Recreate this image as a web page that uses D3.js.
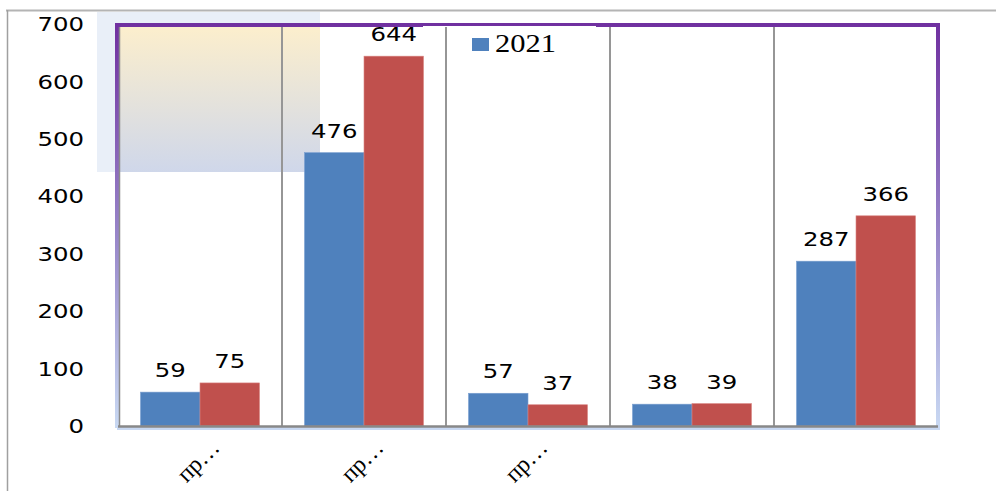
<!DOCTYPE html>
<html>
<head>
<meta charset="utf-8">
<script src="https://cdn.jsdelivr.net/npm/d3@7"></script>
<style>
  body { margin: 0; background: #fff; }
  svg { display: block; }
  .serif { font-family: "Liberation Serif", "Times New Roman", Times, serif; }
  .sans { font-family: "DejaVu Sans", Verdana, sans-serif; }
</style>
</head>
<body>
<svg class="chart" width="996" height="491"></svg>
<script>
// data
var categories = ["пр…", "пр…", "пр…", "", ""];
var series2021 = [59, 476, 57, 38, 287];
var series2022 = [75, 644, 37, 39, 366];
var yTicks = [0, 100, 200, 300, 400, 500, 600, 700];
var legendLabel = "2021";

var colors = ["#4f81bd", "#c0504d"];
// plot edges ("top" would clash with window.top)
var pL = 118, pR = 938, pT = 24, pB = 426;
var sx = 1.22; // text in the picture is a bit wider than normal

var svg = d3.select(".chart");
var defs = svg.append("defs");

var g1 = defs.append("linearGradient").attr("id", "frameGrad")
  .attr("gradientUnits", "userSpaceOnUse")
  .attr("x1", 0).attr("y1", pT).attr("x2", 0).attr("y2", pB);
g1.append("stop").attr("offset", "0%").attr("stop-color", "#7030a0");
g1.append("stop").attr("offset", "55%").attr("stop-color", "#9a8acb");
g1.append("stop").attr("offset", "100%").attr("stop-color", "#c8d8f2");

var g2 = defs.append("linearGradient").attr("id", "boxGrad")
  .attr("x1", 0).attr("y1", 0).attr("x2", 0).attr("y2", 1);
g2.append("stop").attr("offset", "0%").attr("stop-color", "#fdefcc");
g2.append("stop").attr("offset", "100%").attr("stop-color", "#cfd7ea");

// outer frame lines
svg.append("line").attr("x1", 6).attr("x2", 996).attr("y1", 10.5).attr("y2", 10.5)
  .attr("stroke", "#b4b4b4").attr("stroke-width", 2);
svg.append("line").attr("x1", 7.5).attr("x2", 7.5).attr("y1", 10).attr("y2", 491)
  .attr("stroke", "#a0a0a0").attr("stroke-width", 1.5);

// decorative box top left
svg.append("rect").attr("x", 97).attr("y", 12).attr("width", 223).attr("height", 160)
  .attr("fill", "#e9eff8");
svg.append("rect").attr("x", pL).attr("y", pT).attr("width", 320 - pL).attr("height", 172 - pT)
  .attr("fill", "url(#boxGrad)");

var x0 = d3.scaleBand().domain(d3.range(categories.length)).range([pL, pR]);
var x1 = d3.scaleBand().domain([0, 1]).range([22.5, x0.bandwidth() - 22.5]);
var y = d3.scaleLinear().domain([0, 700]).range([pB, pT]);

// frame
svg.append("path")
  .attr("d", "M" + (pL - 1) + "," + (pB + 2) + "V" + (pT + 1) + "H" + pR + "V" + (pB + 2) + "H" + (pL - 1))
  .attr("fill", "none").attr("stroke", "url(#frameGrad)").attr("stroke-width", 4);
svg.append("line").attr("x1", pL + 1.5).attr("x2", pL + 1.5).attr("y1", pT + 3).attr("y2", pB)
  .attr("stroke", "#8c8c8c").attr("stroke-width", 1.5);

// legend background covers part of the top border
svg.append("rect").attr("x", 423).attr("y", 26).attr("width", 173).attr("height", 40).attr("fill", "#fff");

// vertical separators
svg.selectAll(".sep").data(d3.range(1, categories.length)).enter().append("line")
  .attr("class", "sep")
  .attr("x1", function(d) { return x0(d); }).attr("x2", function(d) { return x0(d); })
  .attr("y1", pT + 3).attr("y2", pB)
  .attr("stroke", "#969696").attr("stroke-width", 2);

// bars
var data = categories.map(function(c, i) { return [series2021[i], series2022[i]]; });
var groups = svg.selectAll(".grp").data(data).enter().append("g")
  .attr("class", "grp")
  .attr("transform", function(d, i) { return "translate(" + x0(i) + ",0)"; });

groups.selectAll("rect").data(function(d) { return d; }).enter().append("rect")
  .attr("x", function(d, i) { return x1(i); })
  .attr("y", function(d) { return y(d); })
  .attr("width", x1.bandwidth())
  .attr("height", function(d) { return y(0) - y(d); })
  .attr("fill", function(d, i) { return colors[i]; })
  .attr("stroke", function(d, i) { return i ? "#d98583" : "#7a9fd0"; })
  .attr("stroke-width", 0.6);

groups.selectAll(".lbl").data(function(d) { return d; }).enter().append("text")
  .attr("class", "lbl sans")
  .attr("transform", function(d, i) {
    return "translate(" + (x1(i) + x1.bandwidth() / 2) + "," + (y(d) - 15) + ") scale(" + sx + ",1)";
  })
  .attr("text-anchor", "middle")
  .style("font-size", "20px")
  .text(function(d) { return d; });

// x axis line
svg.append("line").attr("x1", pL).attr("x2", pR).attr("y1", pB + 0.5).attr("y2", pB + 0.5)
  .attr("stroke", "#888").attr("stroke-width", 2.5);

// y tick labels
svg.selectAll(".ytick").data(yTicks).enter().append("text")
  .attr("class", "ytick sans")
  .attr("transform", function(d) { return "translate(84," + y(d) + ") scale(" + sx + ",1)"; })
  .attr("text-anchor", "end").attr("dy", "0.36em")
  .style("font-size", "20px")
  .text(function(d) { return d; });

// x labels
svg.selectAll(".xlab").data(categories).enter().append("text")
  .attr("class", "xlab serif")
  .attr("transform", function(d, i) {
    return "translate(" + (x0(i) + x0.bandwidth() / 2 + 21) + ",449) rotate(-45)";
  })
  .attr("text-anchor", "end")
  .style("font-size", "24px")
  .text(function(d) { return d; });

// legend
svg.append("rect").attr("x", 472).attr("y", 38).attr("width", 17).attr("height", 13).attr("fill", colors[0]);
svg.append("text")
  .attr("class", "serif")
  .attr("transform", "translate(495,52) scale(" + sx + ",1)")
  .style("font-size", "25px")
  .text(legendLabel);
</script>
</body>
</html>
